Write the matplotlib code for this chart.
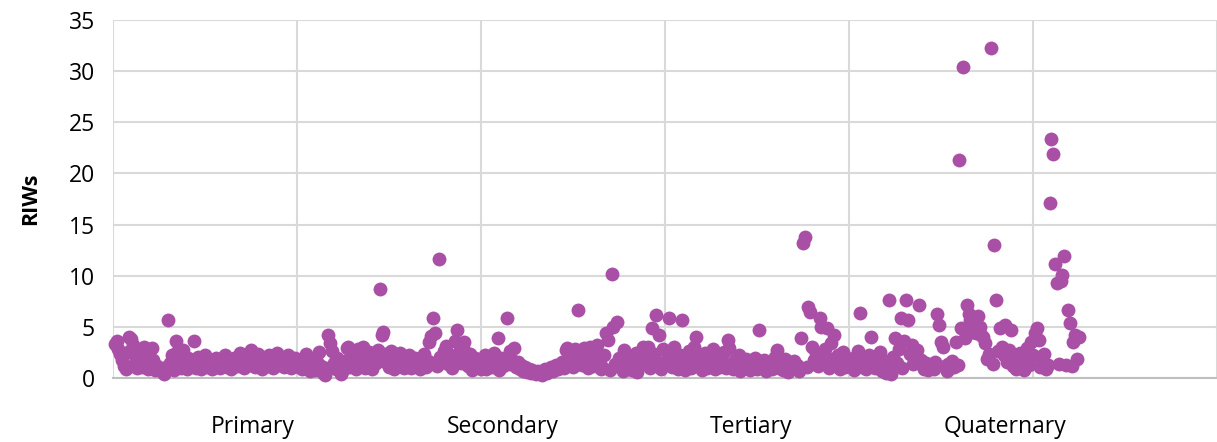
import numpy as np
import matplotlib.pyplot as plt

plt.rcParams['font.family'] = ['Open Sans', 'DejaVu Sans']

# RIW values in order of entry, grouped by stretch of 100 records
riw_0 = [3.3, 3.6, 2.8, 2.3, 1.8, 1.2, 0.9, 2.5, 4.0, 3.8, 3.2, 1.5, 1.0,
         2.2, 1.6, 1.1, 3.0, 2.0, 0.9, 1.4, 2.9, 1.8, 0.8, 1.2, 1.0, 0.7,
         0.6, 0.4, 1.1, 5.7, 1.5, 2.2, 0.8, 3.6, 2.5, 1.8, 1.0, 2.7, 1.3, 0.9, 2.0,
         1.2, 1.8, 3.6, 1.0, 2.1, 1.5, 0.9, 1.7, 2.2, 1.1, 1.4, 1.8, 0.9, 1.6, 2.0,
         1.3, 1.0, 1.9, 1.5, 2.2, 1.1, 1.7, 0.9, 1.4, 2.0, 1.6, 1.2, 2.4, 1.8, 1.0,
         1.5, 2.1, 1.3, 2.7, 1.9, 1.1, 1.6, 2.3, 1.4, 0.9, 2.0, 1.7, 1.2, 2.2, 1.5,
         1.0, 1.8, 2.4, 1.3, 1.6, 2.0, 1.1, 1.5, 2.2, 1.8, 1.0, 1.4, 2.0, 1.2]
riw_1 = [1.1, 1.8, 0.9, 1.5, 2.3, 1.2, 0.7, 1.9, 1.4, 0.8, 1.6, 2.5, 1.2, 0.5, 0.3,
         1.0, 4.2, 3.4, 2.6, 1.5, 0.9, 2.0, 1.2, 0.4, 0.8, 1.7, 2.9, 3.0, 1.1, 2.4,
         1.6, 0.9, 2.8, 1.3, 2.1, 3.0, 1.0, 1.8, 2.5, 1.4, 0.9, 2.2, 1.5, 2.7, 8.7,
         4.2, 4.5, 2.3, 1.5, 1.1, 2.6, 1.8, 0.9, 2.0, 1.3, 2.4, 1.7, 1.0, 1.9, 1.4,
         2.2, 1.0, 1.6, 2.0, 1.2, 1.8, 0.9, 1.5, 2.3, 1.1, 1.7, 3.5, 4.1, 5.9, 4.4,
         1.2, 11.6, 2.1, 1.6, 2.6, 3.1, 1.4, 2.2, 1.0, 1.8, 3.6, 4.7, 2.5, 1.5, 2.9,
         3.5, 1.8, 1.2, 2.3, 0.8, 1.6, 2.0, 1.1, 1.4, 0.9]
riw_2 = [1.6, 2.2, 0.9, 1.3, 1.9, 1.1, 2.4, 1.5, 3.9, 0.8, 2.0, 1.2, 1.7, 5.9, 1.4,
         2.6, 1.8, 2.9, 1.1, 1.6, 0.9, 1.3, 0.7, 1.1, 0.6, 0.9, 0.5, 0.8, 0.6, 0.4,
         0.7, 0.5, 0.3, 0.6, 0.9, 0.5, 0.8, 1.1, 0.7, 1.0, 1.3, 0.9, 1.2, 1.6, 1.0,
         2.7, 2.9, 1.5, 2.3, 1.1, 2.8, 1.7, 6.6, 2.4, 1.3, 2.9, 2.0, 1.0, 3.0, 1.8,
         1.2, 2.6, 3.2, 1.5, 0.9, 1.1, 2.2, 4.4, 3.7, 0.8, 10.2, 5.0, 1.4, 5.5, 2.0,
         1.1, 0.7, 2.7, 1.9, 0.9, 1.5, 0.8, 1.3, 2.4, 0.6, 1.2, 1.8, 3.0, 2.5, 1.4,
         3.0, 1.0, 4.9, 2.3, 6.2, 1.6, 4.2, 0.9, 2.8, 1.5]
riw_3 = [1.8, 5.9, 2.4, 1.1, 3.0, 1.6, 0.9, 2.2, 5.7, 1.3, 0.8, 1.7, 2.6, 1.0, 1.4,
         3.0, 4.0, 2.1, 1.2, 0.8, 1.6, 2.4, 1.0, 1.9, 1.3, 2.8, 0.9, 1.5, 2.0, 1.1,
         1.7, 2.5, 1.0, 3.7, 2.9, 1.4, 0.9, 1.8, 1.2, 2.2, 0.7, 1.5, 1.0, 1.9, 1.3,
         0.8, 1.6, 1.1, 2.0, 0.9, 4.7, 1.4, 1.0, 1.8, 0.7, 1.2, 1.6, 0.9, 1.3, 2.1,
         2.7, 1.0, 1.5, 0.8, 1.9, 1.2, 0.6, 1.4, 1.0, 1.7, 0.9, 1.3, 0.7, 3.9, 13.2,
         13.8, 1.1, 6.9, 6.5, 3.0, 1.8, 2.4, 1.2, 5.9, 5.0, 1.6, 2.8, 4.9, 1.0, 3.4,
         1.9, 4.2, 1.3, 2.2, 0.9, 1.6, 2.5, 1.1, 1.8, 1.4]
riw_4 = [1.2, 2.0, 0.8, 1.5, 2.6, 6.4, 1.1, 1.8, 0.9, 1.4, 2.2, 4.0, 1.6, 1.0, 1.9,
         1.3, 2.5, 0.7, 1.7, 0.5, 1.1, 7.6, 0.4, 2.1, 3.9, 1.5, 2.8, 5.9, 1.0, 3.6,
         7.6, 5.7, 2.3, 3.2, 1.4, 2.0, 2.7, 7.1, 1.8, 1.2, 0.9, 1.5, 0.8, 1.3, 1.0,
         0.9, 1.6, 6.3, 5.2, 3.5, 3.0, 1.2, 0.7, 1.4, 1.0, 1.7, 1.1, 3.5, 1.3, 21.3,
         4.9, 30.4, 3.9, 7.1, 6.3, 5.7, 4.5, 5.4, 4.4, 6.1, 5.0, 4.2, 4.0, 3.4, 1.9,
         2.3, 32.3, 1.4, 13.0, 7.6, 2.6, 4.9, 3.0, 2.2, 5.2, 1.6, 2.7, 4.7, 1.2, 2.0,
         0.9, 1.4, 2.4, 1.1, 0.8, 1.6, 2.9, 1.3, 3.5, 2.2]
riw_5 = [4.4, 4.9, 3.7, 1.1, 1.6, 2.3, 0.9, 1.3, 17.1, 23.4, 21.9, 11.1, 9.3, 1.4,
         9.5, 10.1, 11.9, 1.3, 6.6, 5.4, 1.2, 3.5, 4.2, 1.9, 4.0]

riws = np.array(riw_0 + riw_1 + riw_2 + riw_3 + riw_4 + riw_5)
n = np.arange(1, len(riws) + 1)

groups = ['Primary', 'Secondary', 'Tertiary', 'Quaternary']
group_x = [76, 212, 347, 485]

fig = plt.figure(figsize=(12.17, 4.42), dpi=100)
ax = fig.add_axes([0.0928, 0.1448, 0.9072, 0.81])

ax.scatter(n, riws, s=100, color='#A94FA6', linewidths=0, zorder=3, clip_on=False)

ax.set_xlim(0, 593.5)
ax.set_ylim(0, 35)
ax.set_xticks(np.arange(0, 700, 100))
ax.set_yticks(np.arange(0, 40, 5))
ax.set_xticklabels([])
ax.grid(True, color='#d9d9d9', linewidth=1.5, zorder=0)
ax.tick_params(axis='both', length=0)
ax.tick_params(axis='y', labelsize=16.5, pad=13)

for side in ['top', 'right', 'left']:
    ax.spines[side].set_visible(False)
ax.spines['bottom'].set_color('#bfbfbf')
ax.spines['bottom'].set_linewidth(1.5)

ax.set_ylabel('RIWs', fontsize=15.5, fontweight='bold', labelpad=20)

for name, gx in zip(groups, group_x):
    ax.text(gx, -0.137, name, transform=ax.get_xaxis_transform(),
            ha='center', va='center', fontsize=16.5)

fig.savefig('out.png', dpi=100)
